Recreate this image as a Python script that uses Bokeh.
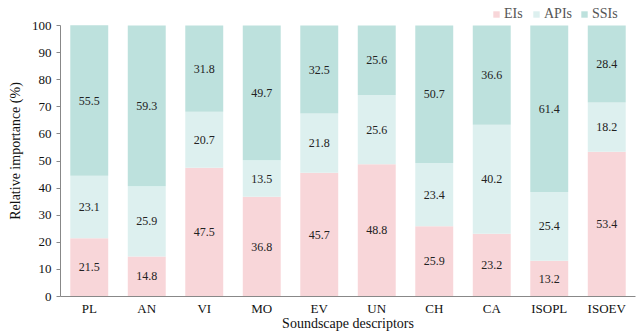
from bokeh.plotting import figure
from bokeh.models import ColumnDataSource, Legend, LegendItem, FactorRange, Range1d
from bokeh.embed import file_html
from bokeh.resources import INLINE
from bokeh.core.properties import value

categories = ["PL", "AN", "VI", "MO", "EV", "UN", "CH", "CA", "ISOPL", "ISOEV"]
eis = [21.5, 14.8, 47.5, 36.8, 45.7, 48.8, 25.9, 23.2, 13.2, 53.4]
apis = [23.1, 25.9, 20.7, 13.5, 21.8, 25.6, 23.4, 40.2, 25.4, 18.2]
ssis = [55.5, 59.3, 31.8, 49.7, 32.5, 25.6, 50.7, 36.6, 61.4, 28.4]
series = ["EIs", "APIs", "SSIs"]
colors = ["#F8D6D9", "#DDF0EF", "#BDE1DD"]
yticks = [0, 10, 20, 30, 40, 50, 60, 70, 80, 90, 100]

FONT = "Liberation Serif"

src = ColumnDataSource(dict(cat=categories, EIs=eis, APIs=apis, SSIs=ssis))

p = figure(x_range=FactorRange(*categories, range_padding=0), y_range=Range1d(0, 107.4),
           width=638, height=333, output_backend="svg", toolbar_location=None,
           min_border_left=60, min_border_right=3, min_border_top=5, min_border_bottom=30)

rs = p.vbar_stack(series, x="cat", width=0.66, color=colors, source=src, line_color=None)

vals = [eis, apis, ssis]
for i, s in enumerate(series):
    mids = []
    for j in range(len(categories)):
        b = sum(vals[k][j] for k in range(i))
        top = min(b + vals[i][j], 100)
        mids.append((b + top) / 2)
    lsrc = ColumnDataSource(dict(x=categories, y=mids, t=[f"{v:.1f}" for v in vals[i]]))
    p.text(x="x", y="y", text="t", source=lsrc, text_align="center", text_baseline="middle",
           text_font=value(FONT), text_font_size="12px", text_color="#222222")

p.xgrid.grid_line_color = None
p.ygrid.grid_line_color = None
p.outline_line_color = None

p.yaxis.ticker = yticks
p.yaxis.bounds = (0, 100)
p.yaxis.axis_line_color = "#888888"
p.yaxis.major_tick_line_color = "#888888"
p.yaxis.major_tick_out = 4
p.yaxis.major_tick_in = 0
p.yaxis.minor_tick_line_color = None
p.xaxis.axis_line_color = "#888888"
p.xaxis.major_tick_line_color = None
p.xaxis.major_tick_out = 0
p.xaxis.minor_tick_line_color = None

for ax in (p.xaxis, p.yaxis):
    ax.major_label_text_font = FONT
    ax.major_label_text_font_size = "13px"
    ax.major_label_text_color = "#111111"
    ax.major_label_text_font_style = "normal"
    ax.axis_label_text_font = FONT
    ax.axis_label_text_font_size = "14px"
    ax.axis_label_text_font_style = "normal"
    ax.axis_label_text_color = "#111111"

p.yaxis.axis_label = "Relative importance (%)"
p.xaxis.axis_label = "Soundscape descriptors"
p.yaxis.axis_label_standoff = 6
p.xaxis.axis_label_standoff = -3
p.xaxis.major_label_standoff = 4

legend = Legend(items=[LegendItem(label=s, renderers=[r]) for s, r in zip(series, rs)],
                orientation="horizontal", location=(432, 274))
legend.label_text_font = FONT
legend.label_text_font_size = "14px"
legend.label_text_color = "#555555"
legend.glyph_width = 8
legend.glyph_height = 8
legend.spacing = 8
legend.padding = 0
legend.margin = 0
legend.label_standoff = 4
legend.label_height = 14
legend.border_line_color = None
legend.background_fill_alpha = 0
p.add_layout(legend)

open("out.html", "w").write(file_html(p, INLINE))
